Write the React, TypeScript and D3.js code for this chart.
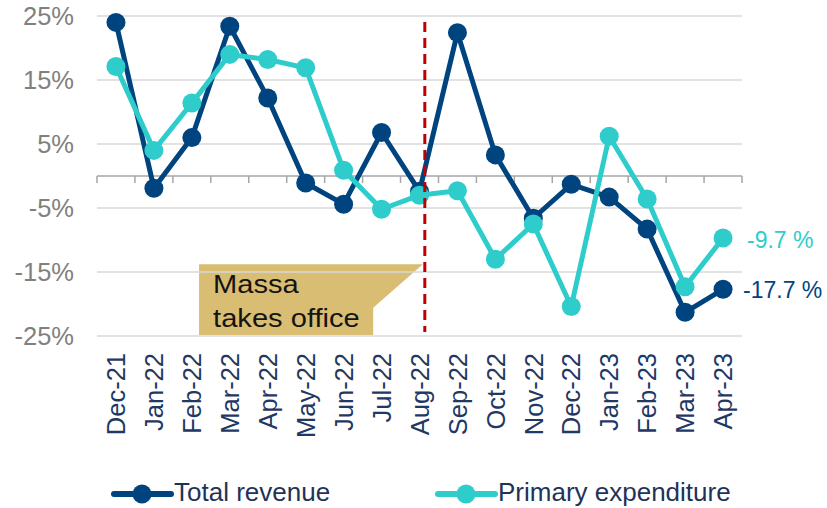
import React from "react";
import * as d3 from "d3";

const categories = ["Dec-21","Jan-22","Feb-22","Mar-22","Apr-22","May-22","Jun-22","Jul-22","Aug-22","Sep-22","Oct-22","Nov-22","Dec-22","Jan-23","Feb-23","Mar-23","Apr-23"];
const totalRevenue = [24.0,-1.9,6.0,23.4,12.2,-1.1,-4.4,6.8,-2.4,22.4,3.3,-6.6,-1.3,-3.3,-8.3,-21.3,-17.7];
const primaryExpenditure = [17.1,4.0,11.4,19.0,18.2,16.9,0.9,-5.2,-3.0,-2.3,-13.0,-7.5,-20.4,6.2,-3.6,-17.3,-9.7];
const yTicks = [25,15,5,-5,-15,-25];
const seriesNames = ["Total revenue","Primary expenditure"];
const endLabels = ["-17.7 %","-9.7 %"];
const annotationLines = ["Massa","takes office"];
const eventMonth = "Aug-22";

const NAVY = "#00447f";
const TEAL = "#2ecdcc";
const FONT = "'Liberation Sans', Arial, sans-serif";

export default function App() {
  const W = 827, H = 508;
  const left = 97, right = 742, top = 16, bottom = 336;
  const x = d3.scaleBand().domain(categories).range([left, right]);
  const y = d3.scaleLinear().domain([-25, 25]).range([bottom, top]);
  const bw = x.bandwidth();
  const cx = (c: string) => (x(c) as number) + bw / 2;
  const line = d3.line<number>().x((_, i) => cx(categories[i])).y(d => y(d));
  const series = [
    { name: seriesNames[0], values: totalRevenue, color: NAVY },
    { name: seriesNames[1], values: primaryExpenditure, color: TEAL },
  ];
  const y0 = y(0);
  const eventX = cx(eventMonth) + bw * 0.14;
  const boxL = left + bw * 2.69, boxR = left + bw * 7.28;
  const boxT = y(-13.8), boxB = y(-24.85);
  const last = categories.length - 1;

  return (
    <svg width={W} height={H} style={{ position: "fixed", left: 0, top: 0, background: "#fff" }} fontFamily={FONT}>
      {/* annotation box */}
      <path d={`M${boxL},${boxT} L${eventX - 2},${boxT} L${boxR},${y(-20.6)} L${boxR},${boxB} L${boxL},${boxB} Z`} fill="#d8bd72" />
      {/* gridlines */}
      {yTicks.map(t => (
        <line key={t} x1={left} x2={right} y1={y(t)} y2={y(t)} stroke="#d9d9d9" strokeWidth={1.3} />
      ))}
      {annotationLines.map((s, i) => (
        <text key={s} transform={`translate(${boxL + 14},${boxT + 29 + i * 34}) scale(1.12,1)`} fontSize={26} fill="#141414">{s}</text>
      ))}
      {/* y tick labels */}
      {yTicks.map(t => (
        <text key={t} x={74} y={y(t)} dy="0.36em" textAnchor="end" fontSize={25.5} fill="#808080">{`${t}%`}</text>
      ))}
      {/* x axis */}
      <line x1={left} x2={right} y1={y0} y2={y0} stroke="#a6a6a6" strokeWidth={1.5} />
      {d3.range(categories.length + 1).map(i => (
        <line key={i} x1={left + i * bw} x2={left + i * bw} y1={y0} y2={y0 + 7} stroke="#a6a6a6" strokeWidth={1.5} />
      ))}
      {categories.map(c => (
        <text key={c} transform={`translate(${cx(c)},353) rotate(-90)`} textAnchor="end" dy="0.36em" fontSize={25.5} fill="#1f3864">{c}</text>
      ))}
      {/* series */}
      {series.map(s => (
        <g key={s.name}>
          <path d={line(s.values) as string} fill="none" stroke={s.color} strokeWidth={5} strokeLinejoin="round" />
          {s.values.map((v, i) => (
            <circle key={i} cx={cx(categories[i])} cy={y(v)} r={9.5} fill={s.color} />
          ))}
        </g>
      ))}
      {/* event line */}
      <line x1={eventX} x2={eventX} y1={22} y2={332} stroke="#c00000" strokeWidth={3} strokeDasharray="10,6" />
      {/* end labels */}
      <text x={cx(categories[last]) + 20} y={y(totalRevenue[last])} dy="0.36em" fontSize={23} fill={NAVY}>{endLabels[0]}</text>
      <text x={cx(categories[last]) + 24} y={y(primaryExpenditure[last]) + 2} dy="0.36em" fontSize={23} fill={TEAL}>{endLabels[1]}</text>
      {/* legend */}
      {series.map((s, i) => {
        const lx = i === 0 ? 114 : 438;
        return (
          <g key={s.name}>
            <line x1={lx} x2={lx + 57} y1={494} y2={494} stroke={s.color} strokeWidth={6} strokeLinecap="round" />
            <circle cx={lx + 28} cy={494} r={9.5} fill={s.color} />
            <text x={lx + 60} y={501} fontSize={26} fill="#1f3358">{s.name}</text>
          </g>
        );
      })}
    </svg>
  );
}
